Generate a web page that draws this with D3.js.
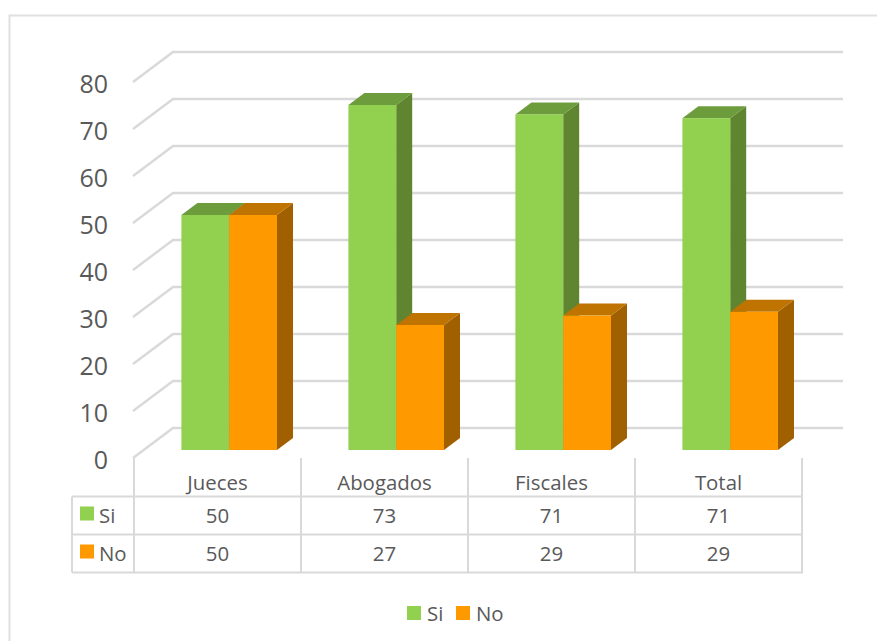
<!DOCTYPE html>
<html>
<head>
<meta charset="utf-8">
<script src="https://cdn.jsdelivr.net/npm/d3@7/dist/d3.min.js"></script>
<style>
html,body{margin:0;padding:0;background:#fff;overflow:hidden}
svg{display:block}
text{font-family:"Open Sans",Lato,sans-serif;fill:#595959}
</style>
</head>
<body>
<div id="chart"></div>
<script>
const categories = ["Jueces", "Abogados", "Fiscales", "Total"];
const seriesNames = ["Si", "No"];
const siValues = [50, 73.4, 71.4, 70.6];
const noValues = [50, 26.6, 28.6, 29.4];
const yTicks = [0, 10, 20, 30, 40, 50, 60, 70, 80];

const W = 877, H = 641;
const colors = {
  Si: {front: "#92D050", top: "#6D9C3C", side: "#5F8530"},
  No: {front: "#FF9900", top: "#BF7300", side: "#A06000"}
};
const gridColor = "#D9D9D9";
const seriesValues = {Si: siValues, No: noValues};

const svg = d3.select("#chart").append("svg").attr("width", W).attr("height", H);
svg.append("rect").attr("width", W).attr("height", H).attr("fill", "#fff");

// Outer chart frame (cropped on the right and at the bottom)
svg.append("path").attr("fill", "none").attr("stroke", "#E0E0E0").attr("stroke-width", 2)
  .attr("d", `M9.5,${H}V15.5H${W}`);

const yFront = d3.scaleLinear().domain([0, 80]).range([458, 82]);
const yBack = d3.scaleLinear().domain([0, 80]).range([428, 52]);
const yBar = d3.scaleLinear().domain([0, 80]).range([450, 74]);
const x0 = d3.scaleBand().domain(categories).range([134, 802]);
const x1 = d3.scaleBand().domain(seriesNames).range([47.4, 143]);
const depthX = 16, depthY = 12;
const wallLeft = 133, wallBack = 173, wallRight = 843;

// 3D walls / gridlines
const grid = svg.append("g").attr("fill", "none").attr("stroke", gridColor).attr("stroke-width", 2.4);
grid.selectAll(".g").data(yTicks).join("path")
  .attr("d", d => `M${wallLeft},${yFront(d)}L${wallBack},${yBack(d)}H${wallRight}`);

// Y axis labels
const yAxis = d3.axisLeft(yFront).tickValues(yTicks).tickSize(0).tickPadding(25);
const yg = svg.append("g").attr("transform", `translate(${wallLeft},2)`).call(yAxis);
yg.select(".domain").remove();
yg.selectAll("text").style("font-size", "25px").attr("fill", "#595959");

// Bars
const bars = svg.append("g");
categories.forEach((c, i) => {
  seriesNames.forEach(s => {
    const v = seriesValues[s][i];
    const xl = x0(c) + x1(s), xr = xl + x1.bandwidth();
    const yt = yBar(v), yb = yBar(0);
    const g = bars.append("g");
    g.append("path").attr("fill", colors[s].side)
      .attr("d", `M${xr},${yt}L${xr + depthX},${yt - depthY}V${yb - depthY}L${xr},${yb}Z`);
    g.append("path").attr("fill", colors[s].top)
      .attr("d", `M${xl},${yt}L${xl + depthX},${yt - depthY}H${xr + depthX}L${xr},${yt}Z`);
    g.append("rect").attr("fill", colors[s].front)
      .attr("x", xl).attr("y", yt).attr("width", xr - xl).attr("height", yb - yt);
  });
});

// Data table
const rowTop = 496.5, rowH = 38, tableLeft = 72;
const rowY = i => rowTop + i * rowH;
const table = svg.append("g").attr("fill", "none").attr("stroke", gridColor).attr("stroke-width", 2);
seriesNames.concat("end").forEach((_, i) => {
  table.append("line").attr("x1", tableLeft).attr("x2", x0.range()[1] + 1).attr("y1", rowY(i)).attr("y2", rowY(i));
});
table.append("line").attr("x1", tableLeft).attr("x2", tableLeft).attr("y1", rowY(0)).attr("y2", rowY(2));
[...categories.map(c => x0(c)), x0.range()[1]].forEach(x => {
  table.append("line").attr("x1", x).attr("x2", x).attr("y1", yFront(0)).attr("y2", rowY(2));
});

const fmt = d3.format(".0f");
const tableText = (x, y, t, anchor) => svg.append("text").attr("x", x).attr("y", y)
  .attr("text-anchor", anchor).attr("dominant-baseline", "central")
  .style("font-size", "20.4px").text(t);

categories.forEach((c, i) => {
  const cx = x0(c) + x0.bandwidth() / 2;
  tableText(cx, 482, c, "middle");
  seriesNames.forEach((s, r) => {
    tableText(cx, rowY(r) + rowH / 2 - 1, fmt(seriesValues[s][i]), "middle");
  });
});
seriesNames.forEach((s, r) => {
  svg.append("rect").attr("x", 80).attr("y", rowY(r) + 10).attr("width", 14).attr("height", 14).attr("fill", colors[s].front);
  tableText(99, rowY(r) + rowH / 2 - 1, s, "start");
});

// Legend
const legendX = {Si: 407, No: 456};
seriesNames.forEach(s => {
  svg.append("rect").attr("x", legendX[s]).attr("y", 606).attr("width", 14).attr("height", 14).attr("fill", colors[s].front);
  tableText(legendX[s] + 20, 612.5, s, "start");
});
</script>
</body>
</html>
